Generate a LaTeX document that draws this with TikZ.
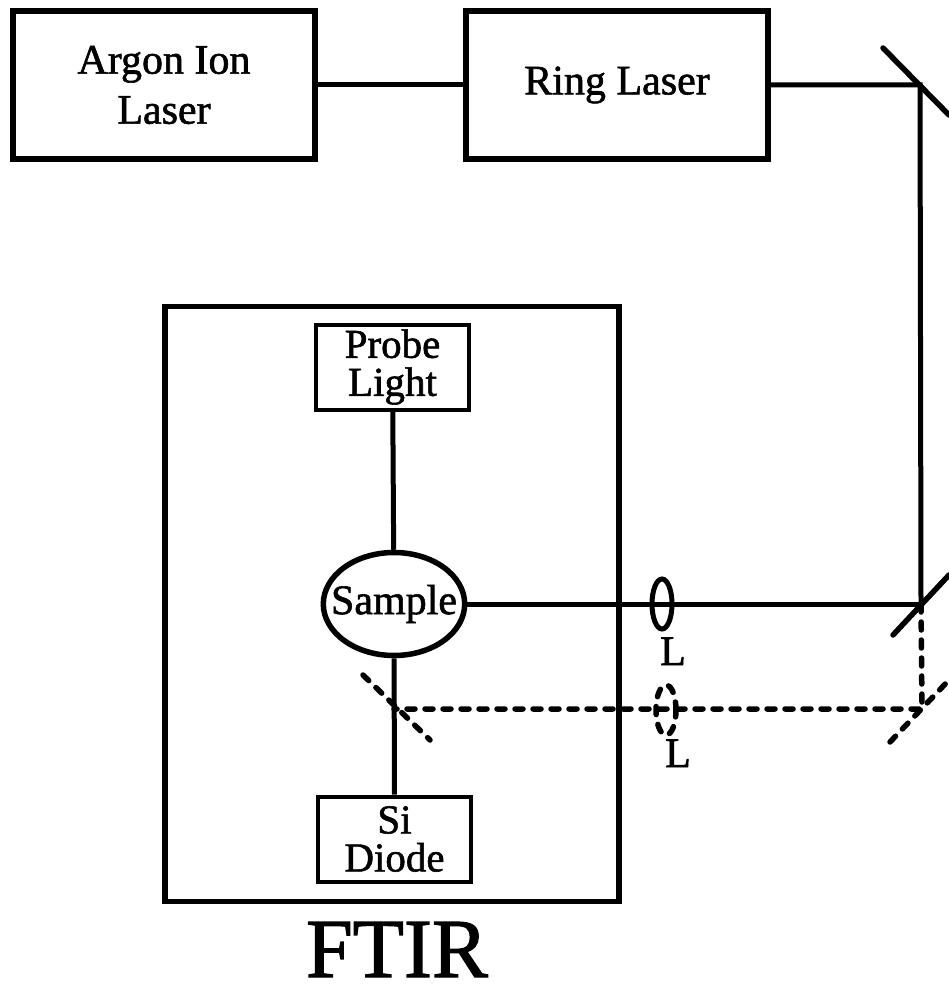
\documentclass[tikz,border=0pt]{standalone}
\usepackage{fontspec}
\setmainfont{Liberation Serif}[RawFeature={embolden=1.4}]
\usetikzlibrary{shapes.geometric}
\tikzset{x=1pt,y=-1pt,
  outerbox/.style = {draw, line width=5.5pt, inner sep=0pt, align=center},
  innerbox/.style = {draw, line width=4pt, inner sep=0pt, align=center, minimum width=153pt, minimum height=85pt},
  lensnode/.style = {draw, ellipse, line width=5pt, inner sep=0pt, minimum width=20pt, minimum height=50pt},
  beam/.style = {line width=5pt},
  probe/.style = {line width=5.5pt, line cap=round, dash pattern=on 8pt off 10pt},
  mirror/.style = {line width=5.5pt, line cap=round},
  boxlabel/.style = {font=\fontsize{42}{50}\selectfont, align=center},
  smalllabel/.style = {font=\fontsize{41}{38}\selectfont, align=center}
}
\begin{document}
\begin{tikzpicture}
  \useasboundingbox (0,0) rectangle (949,984);
  \node[outerbox, minimum width=302pt, minimum height=148pt, boxlabel] (argon) at (164,85) {Argon Ion\\Laser};
  \node[outerbox, minimum width=302pt, minimum height=148pt, boxlabel] (ring) at (617,85) {Ring Laser};
  \node[outerbox, minimum width=454pt, minimum height=595pt] (ftir) at (392,604) {};
  \node[innerbox, smalllabel] (probelight) at (392.5,367) {Probe\\Light};
  \node[innerbox, smalllabel] (diode) at (394.5,839) {Si\\Diode};
  \node[draw, ellipse, line width=5.5pt, minimum width=139pt, minimum height=103pt, inner ysep=0pt, inner xsep=-13pt, boxlabel] (sample) at (394,604) {Sample};
  \node[lensnode] (lens) at (662,604) {};
  \node[lensnode, probe] (lensb) at (666,710) {};
  \node[boxlabel, anchor=base, inner sep=0pt] (lenslabel) at (673,665) {L};
  \node[boxlabel, anchor=base, inner sep=0pt] (lensblabel) at (678,767) {L};
  \node[font=\fontsize{84}{84}\selectfont, anchor=base, inner sep=0pt] (ftirlabel) at (397,977) {FTIR};
  % mirrors
  \coordinate (mtop) at (920,85);
  \coordinate (mmid) at (921,604);
  \coordinate (mlow) at (922,709);
  \coordinate (msam) at (394,709);
  \draw[mirror] (883,48) -- (949,115);
  \draw[mirror] (893,635) -- (949,575);
  \draw[mirror, probe] (890,742) -- (949,680);
  \draw[mirror, probe] (363,675) -- (430,740);
  % beams
  \draw[beam] (argon) -- (ring);
  \draw[beam] (ring) -- (mtop) -- (mmid);
  \draw[beam] (sample) -- (mmid);
  \draw[beam] (probelight) -- (sample);
  \draw[beam] (sample) -- (diode);
  \draw[probe] (mmid) -- (mlow) -- (msam);
\end{tikzpicture}
\end{document}
